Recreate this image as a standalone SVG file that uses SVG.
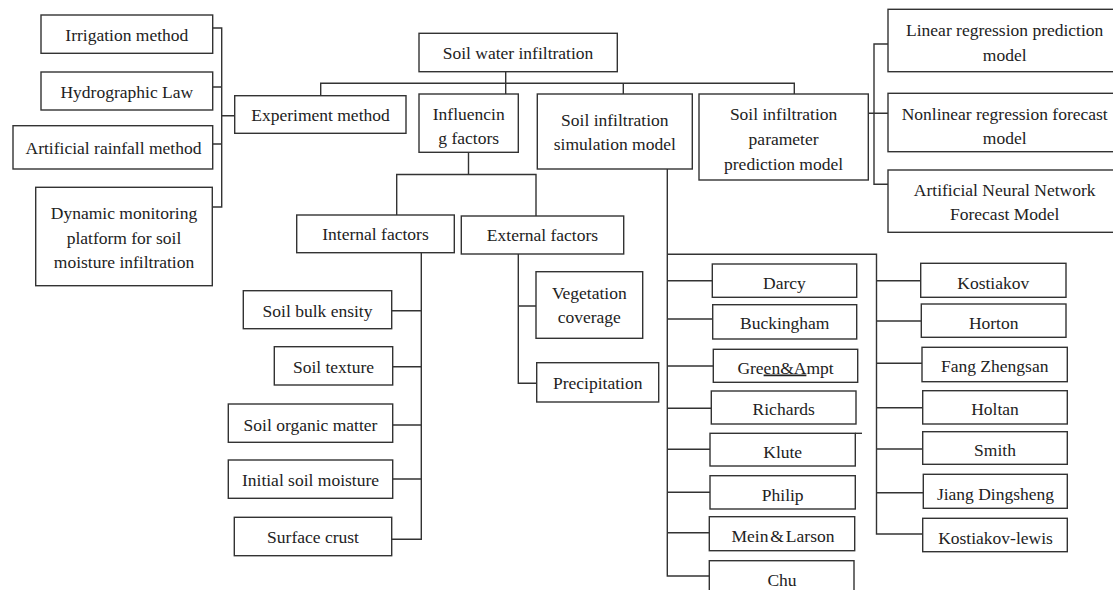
<svg xmlns="http://www.w3.org/2000/svg" width="1113" height="590" viewBox="0 0 1113 590">
<style>
rect{fill:#fff;stroke:#333;stroke-width:1.4}
text{font-family:"Liberation Serif","Times New Roman",serif;font-size:17.5px;fill:#222;text-anchor:middle}
#connectors path{fill:none;stroke:#333;stroke-width:1.4}
.u{text-decoration:underline}
</style>
<rect x="0" y="0" width="1113" height="590" style="fill:#fff;stroke:none"/>
<g id="connectors">
<path d="M212.7 28H221.7V207H212.7M212.7 87H221.7M212.7 144H221.7M221.7 115.7H234.7"/>
<path d="M320.7 95.7V83.3H794.3V94M505.7 71.7V94M623.3 83.3V94"/>
<path d="M868.3 113.3H888M888 44H874V184.3H888"/>
<path d="M468.5 152.3V174.5M396.7 215V174.5H536V216"/>
<path d="M421.3 252.7V539.3H391.7M391.7 310.7H421.3M392.7 366.7H421.3M392.7 425H421.3M392.7 479H421.3"/>
<path d="M518.3 254V383.3H536.7M518.3 306H536"/>
<path d="M667.3 169V576H709.3M667.3 280.7H712.3M667.3 319H712.7M667.3 366H713.3M667.3 408.3H711.3M667.3 449.3H710M667.3 492.3H710M667.3 532.7H709.3"/>
<path d="M667.3 254.3H876.5V534H922.7M876.5 280.7H920.7M876.5 321H921.3M876.5 363.3H922M876.5 407.7H922.7M876.5 449H922.7M876.5 492.7H923.3"/>
<path d="M855.3 433.3H862"/>
</g>
<g id="n-root"><rect x="419" y="33.3" width="198.3" height="38.4"/><text x="518" y="59">Soil water infiltration</text></g>
<g id="n-experiment"><rect x="234.7" y="95.7" width="171.3" height="37.6"/><text x="320.5" y="121">Experiment method</text></g>
<g id="n-influencing"><rect x="419" y="94" width="99.3" height="58.3"/><text x="468.7" y="119.5">Influencin</text><text x="468.7" y="143.5">g factors</text></g>
<g id="n-simulation"><rect x="537.3" y="94" width="155" height="75"/><text x="614.8" y="126">Soil infiltration</text><text x="614.8" y="150">simulation model</text></g>
<g id="n-parameter"><rect x="699" y="94" width="169.3" height="86"/><text x="783.6" y="119.5">Soil infiltration</text><text x="783.6" y="144.5">parameter</text><text x="783.6" y="169.5">prediction model</text></g>
<g id="n-linear"><rect x="888" y="9.3" width="240" height="62.4"/><text x="1004.7" y="35.5">Linear regression prediction</text><text x="1004.7" y="60.5">model</text></g>
<g id="n-nonlinear"><rect x="888" y="93.3" width="240" height="58.4"/><text x="1004.7" y="119.5">Nonlinear regression forecast</text><text x="1004.7" y="143.5">model</text></g>
<g id="n-ann"><rect x="888" y="170" width="240" height="62.3"/><text x="1004.7" y="196">Artificial Neural Network</text><text x="1004.7" y="220">Forecast Model</text></g>
<g id="n-irrigation"><rect x="41" y="15" width="171.7" height="38.3"/><text x="126.8" y="40.8">Irrigation method</text></g>
<g id="n-hydrographic"><rect x="41" y="72" width="171.7" height="38"/><text x="126.8" y="98.3">Hydrographic Law</text></g>
<g id="n-rainfall"><rect x="13" y="125.7" width="199.7" height="43.3"/><text x="113.5" y="153.5">Artificial rainfall method</text></g>
<g id="n-dynamic"><rect x="35.7" y="187.3" width="176.6" height="98.4"/><text x="124" y="219.3">Dynamic monitoring</text><text x="124" y="244.3">platform for soil</text><text x="124" y="267.7">moisture infiltration</text></g>
<g id="n-internal"><rect x="296.7" y="215" width="157.6" height="37.7"/><text x="375.5" y="240">Internal factors</text></g>
<g id="n-external"><rect x="461.3" y="216" width="162.4" height="38"/><text x="542.5" y="241">External factors</text></g>
<g id="n-bulk"><rect x="243.3" y="290.7" width="148.4" height="38"/><text x="317.5" y="316.5">Soil bulk ensity</text></g>
<g id="n-texture"><rect x="274.3" y="346.7" width="118.4" height="38.3"/><text x="333.5" y="373">Soil texture</text></g>
<g id="n-organic"><rect x="228.3" y="404" width="164.4" height="38.3"/><text x="310.5" y="430.5">Soil organic matter</text></g>
<g id="n-initial"><rect x="228.3" y="460" width="164.4" height="38.3"/><text x="310.5" y="486.3">Initial soil moisture</text></g>
<g id="n-crust"><rect x="234.3" y="517.3" width="157.4" height="38.4"/><text x="313" y="543">Surface crust</text></g>
<g id="n-vegetation"><rect x="536" y="271.7" width="106.7" height="66.6"/><text x="589.3" y="299.3">Vegetation</text><text x="589.3" y="323.3">coverage</text></g>
<g id="n-precipitation"><rect x="536.7" y="362.7" width="122" height="39.3"/><text x="597.7" y="389.3">Precipitation</text></g>
<g id="n-darcy"><rect x="712.3" y="264" width="144.4" height="33.3"/><text x="784.5" y="289">Darcy</text></g>
<g id="n-buckingham"><rect x="712.7" y="304.7" width="144" height="34.3"/><text x="784.7" y="329">Buckingham</text></g>
<g id="n-green"><rect x="713.3" y="349.3" width="144.4" height="33"/><text x="785.5" y="373.5">Gre<tspan class="u">en&amp;A</tspan>mpt</text></g>
<g id="n-richards"><rect x="711.3" y="391" width="144.7" height="33"/><text x="783.7" y="414.5">Richards</text></g>
<g id="n-klute"><rect x="710" y="433.3" width="145.3" height="32.7"/><text x="782.7" y="458">Klute</text></g>
<g id="n-philip"><rect x="710" y="475.7" width="145.3" height="33.3"/><text x="782.7" y="501">Philip</text></g>
<g id="n-mein"><rect x="709.3" y="516.7" width="145.4" height="34"/><text x="783" y="542" style="word-spacing:-2.5px">Mein &amp; Larson</text></g>
<g id="n-chu"><rect x="709.3" y="560.7" width="144.7" height="40"/><text x="782" y="586">Chu</text></g>
<g id="n-kostiakov"><rect x="920.7" y="263.3" width="145.3" height="34"/><text x="993.3" y="289">Kostiakov</text></g>
<g id="n-horton"><rect x="921.3" y="304" width="144.7" height="33.3"/><text x="993.7" y="328.5">Horton</text></g>
<g id="n-fang"><rect x="922" y="347.3" width="145.3" height="34.4"/><text x="994.7" y="372">Fang Zhengsan</text></g>
<g id="n-holtan"><rect x="922.7" y="390.7" width="144.6" height="33.3"/><text x="995" y="414.5">Holtan</text></g>
<g id="n-smith"><rect x="922.7" y="431.7" width="144.6" height="32.6"/><text x="995" y="456">Smith</text></g>
<g id="n-jiang"><rect x="923.3" y="474.3" width="144" height="34"/><text x="995.5" y="499.5">Jiang Dingsheng</text></g>
<g id="n-kostiakov-lewis"><rect x="922.7" y="518.3" width="144.6" height="33.4"/><text x="995.5" y="543.5">Kostiakov-lewis</text></g>
</svg>
